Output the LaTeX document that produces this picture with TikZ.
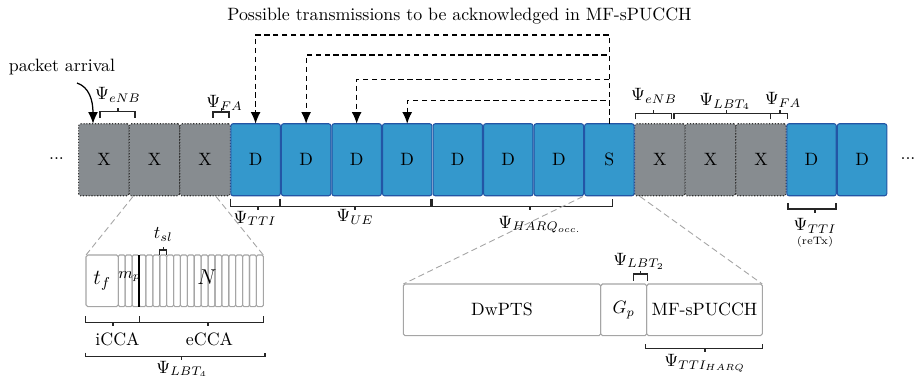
\documentclass[tikz,border=0pt]{standalone}
\usetikzlibrary{arrows.meta,calc}

% one drawing unit
\newcommand\pxu{0.56pt}

\definecolor{blkblue}{RGB}{52,152,204}
\definecolor{blkblueedge}{RGB}{35,85,165}
\definecolor{blkgray}{RGB}{135,140,144}
\definecolor{blkgrayedge}{RGB}{50,50,50}
\definecolor{zoomgray}{RGB}{165,165,165}

% square bracket: x1, x2, y, end-tick length (positive points down), x of the middle tick
\newcommand\sqbracket[5]{%
  \draw[brk] (#1,{#3+#4}) -- (#1,#3) -- (#2,#3) -- (#2,{#3+#4});
  \draw[brk] (#5,#3) -- (#5,{#3-3.5*sign(#4)});
}

\begin{document}
\begin{tikzpicture}[x=\pxu,y=-\pxu,
  blk/.style={minimum height=72*\pxu, inner sep=0pt, outer sep=0pt},
  dblk/.style={blk, minimum width=49.4*\pxu, fill=blkblue, draw=blkblueedge,
    line width=0.6pt, rounded corners=1.2pt},
  xblk/.style={blk, minimum width=50.54*\pxu, fill=blkgray, draw=blkgrayedge,
    densely dotted, line width=0.6pt, rounded corners=1pt},
  brk/.style={line width=0.6pt, black!85},
  lbl/.style={inner sep=0pt, anchor=base},
  ackarrow/.style={line width=0.7pt, dash pattern=on 3pt off 2pt,
    -{Latex[length=6.5pt,width=5.5pt]}},
  zoomline/.style={draw=zoomgray, line width=0.5pt, dash pattern=on 3.5pt off 2pt},
  zcell/.style={draw=zoomgray, line width=0.6pt, rounded corners=1pt,
    minimum height=51.7*\pxu, inner sep=0pt, outer sep=0pt},
  slot/.style={zcell, minimum width=6.905*\pxu, rounded corners=0.8pt},
]
\useasboundingbox (0,0) rectangle (915,376);

% title
\node[lbl] (title) at (459.5,20.5) {Possible transmissions to be acknowledged in MF-sPUCCH};

% subframe blocks
\foreach \i in {0,1,2,11,12,13}
  \node[xblk] (b\i) at ({78.7+50.54*(\i+0.5)},159.75) {X};
\foreach \i in {3,...,9,14,15}
  \node[dblk] (b\i) at ({78.7+50.54*(\i+0.5)},159.75) {D};
\node[dblk] (b10) at ({78.7+50.54*10.5},159.75) {S};

\node[lbl] (dotsl) at (56.5,159.5) {...};
\node[lbl] (dotsr) at (908,159.5) {...};

% acknowledgement arrows from the special subframe
\coordinate (lv3) at (0,35);
\coordinate (lv4) at (0,55);
\coordinate (lv5) at (0,79.3);
\coordinate (lv6) at (0,100.7);
\foreach \t in {3,4,5,6}
  \draw[ackarrow] (b10.north) -- (b10.north |- lv\t) -| (b\t.north);

% packet arrival
\node[lbl] (pa) at (62,71.5) {packet arrival};
\coordinate (pa-tail) at (77,83);
\coordinate (pa-head) at ($(b0.north west)+(14.3,0)$);
\draw[line width=0.7pt, -{Latex[length=6.5pt,width=5.5pt]}]
  (pa-tail) .. controls (89,87) and (93,100) .. (pa-head);

% brackets above the blocks
\sqbracket{100}{135}{111.7}{6}{118}
\node[lbl] (enb1) at (118,100) {$\Psi_{eNB}$};
\sqbracket{213}{229}{112}{6}{221.5}
\node[lbl] (fa1) at (224.5,107.5) {$\Psi_{FA}$};
\sqbracket{635.7}{671.7}{113.5}{6}{653.5}
\node[lbl] (enb2) at (654,100.5) {$\Psi_{eNB}$};
\sqbracket{674}{770.7}{113.5}{6}{726.5}
\node[lbl] (lbt4) at (725,105.5) {$\Psi_{LBT_4}$};
\sqbracket{770.7}{787.3}{113.5}{6}{780}
\node[lbl] (fa2) at (783,105) {$\Psi_{FA}$};

% brackets below the blocks
\sqbracket{230.7}{279.3}{206.7}{-8}{258}
\node[lbl] (tti1) at (255,223) {$\Psi_{TTI}$};
\sqbracket{280.5}{431}{206.7}{-8}{355}
\node[lbl] (ue) at (355,221.5) {$\Psi_{UE}$};
\sqbracket{432.7}{612.7}{206.7}{-8}{530}
\node[lbl] (harq) at (540,228) {$\Psi_{HARQ_{occ.}}$};
\sqbracket{788}{836}{209}{-6}{815}
\node[lbl] (tti2) at (815,230.5) {$\Psi_{TTI}$};
\node[lbl, font=\fontsize{6}{7}\selectfont] (retx) at (815,244) {(reTx)};

% LBT detail: first slot, then the sensing slots
\node[zcell, minimum width=32.3*\pxu] (tf) at (102.15,280.85) {\large $t_f$};
\foreach \k in {0,...,20}
  \node[slot] (s\k) at ({118.3+6.905*(\k+0.5)},280.85) {};
\draw[line width=0.8pt, black] (s2.north east) -- (s2.south east);
\node[font=\small, inner sep=0pt] (mp) at (129.5,276.5) {$m_p$};
\node[font=\large, inner sep=0pt] (nn) at (207,277) {$N$};

\sqbracket{159.7}{166.6}{250}{4.5}{163.2}
\node[lbl] (tsl) at (163.3,238.5) {$t_{sl}$};
\sqbracket{85.5}{139.3}{322.7}{-6.7}{113}
\node[lbl] (icca) at (117.5,345.5) {iCCA};
\sqbracket{139.3}{263.5}{322.7}{-6.7}{208}
\node[lbl] (ecca) at (209.5,345.5) {eCCA};
\sqbracket{85.5}{265}{356.7}{-4}{181.7}
\node[lbl] (lbt) at (182,373) {$\Psi_{LBT_4}$};

\coordinate (zl-a) at (133,196.5);
\coordinate (zl-b) at (216,196.5);
\draw[zoomline] (zl-a) -- (tf.north west);
\draw[zoomline] (zl-b) -- (s20.north east);

% special subframe detail
\node[zcell, minimum width=197.4*\pxu] (dw) at (502,309.85) {DwPTS};
\node[zcell, minimum width=46*\pxu] (gp) at (623.7,309.85) {$G_p$};
\node[zcell, minimum width=115.6*\pxu] (mf) at (704.5,309.85) {MF-sPUCCH};

\sqbracket{633.3}{647.3}{274}{6.7}{640.7}
\node[lbl] (lbt2) at (639,265) {$\Psi_{LBT_2}$};
\sqbracket{645.7}{762.3}{348.3}{-4.3}{705}
\node[lbl] (ttih) at (705,366.5) {$\Psi_{TTI_{HARQ}}$};

\coordinate (zs-a) at (583,196.5);
\coordinate (zs-b) at (640,196.5);
\draw[zoomline] (zs-a) -- (dw.north west);
\draw[zoomline] (zs-b) -- (mf.north east);
\end{tikzpicture}
\end{document}
